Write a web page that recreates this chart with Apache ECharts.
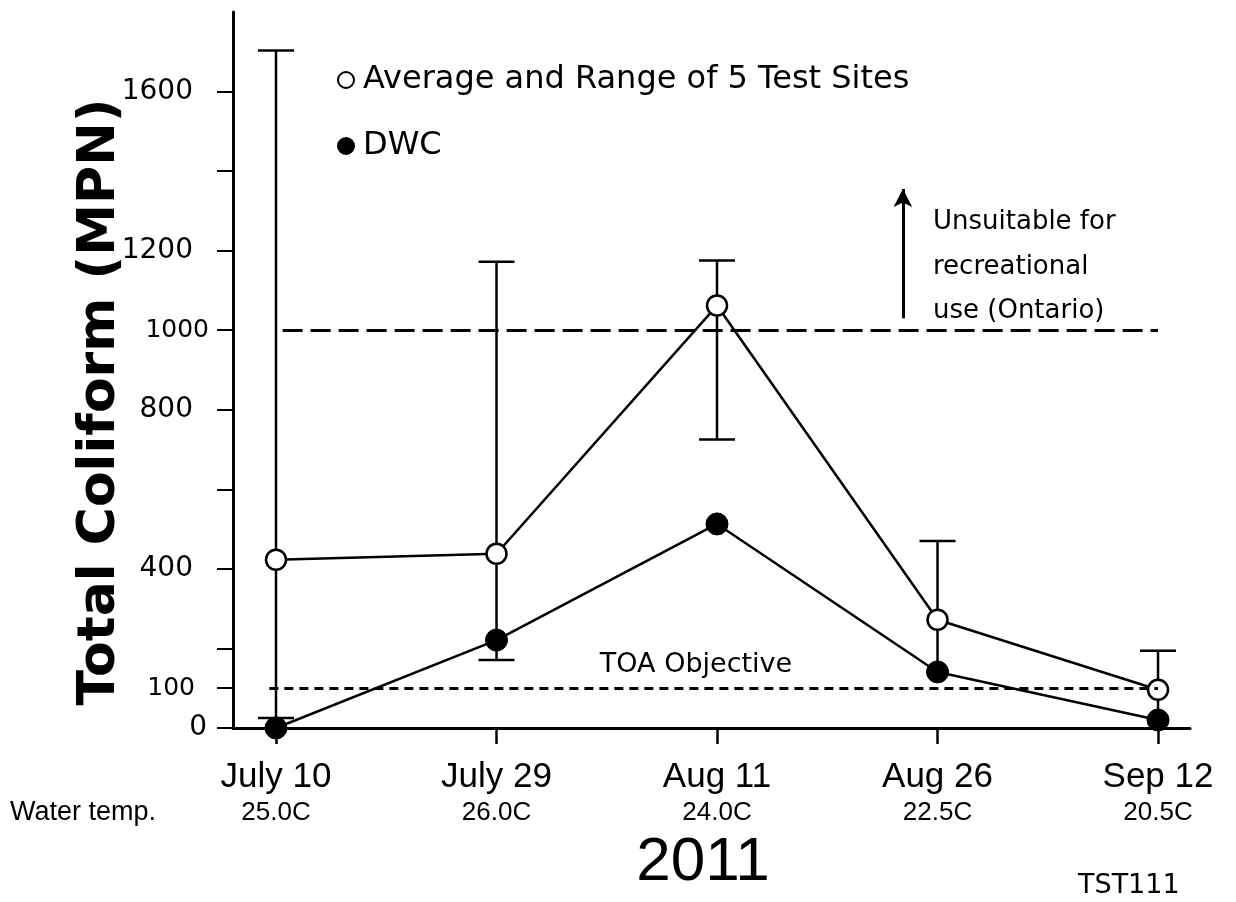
<!DOCTYPE html>
<html>
<head>
<meta charset="utf-8">
<title>Total Coliform 2011</title>
<script src="https://cdn.jsdelivr.net/npm/echarts@6/dist/echarts.min.js"></script>
<style>
    html, body { margin: 0; padding: 0; background: #fff; }
    #chart { width: 1236px; height: 902px; }
</style>
</head>
<body>
<div id="chart"></div>
<script>
// sampling dates and water temperature
let dates = ['July 10', 'July 29', 'Aug 11', 'Aug 26', 'Sep 12'];
let temps = ['25.0C', '26.0C', '24.0C', '22.5C', '20.5C'];

// average of 5 test sites, with range (low / high)
let avgValues = [423, 438, 1062, 272, 96];
let rangeLow  = [25, 171, 725, 141, 20];
let rangeHigh = [1703, 1172, 1175, 470, 194];

// DWC site
let dwcValues = [0, 221, 513, 141, 20];

// y axis
let yTicks  = [0, 100, 200, 400, 600, 800, 1000, 1200, 1400, 1600];
let yLabels = [0, 100, 400, 800, 1000, 1200, 1600];

// guideline levels
let ontarioLimit = 1000;
let toaObjective = 100;

let chart = echarts.init(document.getElementById('chart'), null, {renderer: 'canvas'});

let sansFont = 'DejaVu Sans';
let narrowFont = 'Liberation Sans';

let avgData = avgValues.map((v, i) => [i, v]);
let dwcData = dwcValues.map((v, i) => [i, v]);
let barData = rangeLow.map((v, i) => [i, v, rangeHigh[i], dwcValues[i]]);

// error bars (vertical line + caps)
let renderRange = (params, api) => {
    let x = api.value(0);
    let lo = api.coord([x, api.value(1)]);
    let hi = api.coord([x, api.value(2)]);
    let half = 18;
    let style = {stroke: '#000', lineWidth: 2.5};
    let children = [
        {type: 'line', shape: {x1: lo[0], y1: lo[1], x2: hi[0], y2: hi[1]}, style: style},
        {type: 'line', shape: {x1: hi[0] - half, y1: hi[1], x2: hi[0] + half, y2: hi[1]}, style: style}
    ];
    // the low end hidden under the DWC point has no cap
    if (api.value(1) !== api.value(3)) {
        children.push({type: 'line', shape: {x1: lo[0] - half, y1: lo[1], x2: lo[0] + half, y2: lo[1]}, style: style});
    }
    return {type: 'group', children: children};
};

let option = {
    backgroundColor: '#fff',
    animation: false,
    grid: {left: 233, right: 46, top: 12, bottom: 174, containLabel: false},
    legend: {
        orient: 'vertical',
        left: 332,
        top: 59,
        itemGap: 34,
        itemWidth: 16,
        itemHeight: 16,
        icon: 'circle',
        textStyle: {fontFamily: sansFont, fontSize: 32, color: '#000', padding: [0, 0, 0, 4]},
        data: ['Average and Range of 5 Test Sites', 'DWC']
    },
    xAxis: {
        type: 'value',
        min: -0.195,
        max: 4.145,
        splitLine: {show: false},
        axisLine: {show: true, onZero: false, lineStyle: {color: '#000', width: 3}},
        axisTick: {show: true, customValues: [0, 1, 2, 3, 4], length: 16, lineStyle: {color: '#000', width: 2.5}},
        axisLabel: {
            customValues: [0, 1, 2, 3, 4],
            margin: 30,
            color: '#000',
            formatter: v => '{d|' + dates[Math.round(v)] + '}\n{t|' + temps[Math.round(v)] + '}',
            rich: {
                d: {fontFamily: narrowFont, fontSize: 35, lineHeight: 38, color: '#000', align: 'center'},
                t: {fontFamily: narrowFont, fontSize: 26, lineHeight: 34, color: '#000', align: 'center'}
            }
        }
    },
    yAxis: {
        type: 'value',
        min: 0,
        max: 1800,
        splitLine: {show: false},
        axisLine: {show: true, onZero: false, lineStyle: {color: '#000', width: 3}},
        axisTick: {show: true, customValues: yTicks, length: 16, lineStyle: {color: '#000', width: 2}},
        axisLabel: {
            customValues: yLabels,
            margin: 24,
            color: '#000',
            formatter: v => {
                if (v === 1000) return '{s|1000}';
                if (v === 100) return '{s2|100}';
                if (v === 0) return '{z|0}';
                return '{n|' + v + '}';
            },
            rich: {
                n: {fontFamily: sansFont, fontSize: 28, color: '#000', padding: [0, 16, 0, 0]},
                s: {fontFamily: sansFont, fontSize: 25, color: '#000'},
                s2: {fontFamily: sansFont, fontSize: 25, color: '#000', padding: [0, 14, 0, 0]},
                z: {fontFamily: sansFont, fontSize: 28, color: '#000', padding: [0, 2, 0, 0]}
            }
        }
    },
    series: [
        {
            name: 'range',
            type: 'custom',
            renderItem: renderRange,
            data: barData,
            z: 1,
            silent: true
        },
        {
            name: 'DWC',
            type: 'line',
            data: dwcData,
            symbol: 'circle',
            symbolSize: 22,
            lineStyle: {color: '#000', width: 2.5},
            itemStyle: {color: '#000', borderColor: '#000', borderWidth: 1},
            z: 3,
            markLine: {
                silent: true,
                symbol: ['none', 'none'],
                label: {show: false},
                lineStyle: {color: '#000', width: 3, type: [9, 6]},
                data: [[{coord: [-0.03, toaObjective]}, {coord: [4, toaObjective]}]]
            }
        },
        {
            name: 'Average and Range of 5 Test Sites',
            type: 'line',
            data: avgData,
            symbol: 'circle',
            symbolSize: 20,
            lineStyle: {color: '#000', width: 2.5},
            itemStyle: {color: '#fff', borderColor: '#000', borderWidth: 2.5},
            z: 4,
            markLine: {
                silent: true,
                label: {show: false},
                data: [
                    [
                        {coord: [0.03, ontarioLimit], symbol: 'none', lineStyle: {color: '#000', width: 3, type: [20, 8]}},
                        {coord: [4, ontarioLimit], symbol: 'none'}
                    ],
                    [
                        {coord: [2.843, 1030], symbol: 'none', lineStyle: {color: '#000', width: 3, type: 'solid'}},
                        {coord: [2.843, 1355], symbol: 'arrow', symbolSize: [14, 18]}
                    ]
                ]
            }
        }
    ],
    graphic: [
        {
            type: 'text', x: 100, y: 402, rotation: Math.PI / 2,
            style: {text: 'Total Coliform (MPN)', fontFamily: sansFont, fontWeight: 'bold', fontSize: 52,
                fill: '#000', align: 'center', verticalAlign: 'middle'}
        },
        {
            type: 'text', left: 933, top: 200,
            style: {text: 'Unsuitable for\nrecreational\nuse (Ontario)', fontFamily: sansFont, fontSize: 26,
                lineHeight: 44.5, fill: '#000'}
        },
        {
            type: 'text', x: 696, y: 665,
            style: {text: 'TOA Objective', fontFamily: sansFont, fontSize: 27, fill: '#000',
                align: 'center', verticalAlign: 'middle'}
        },
        {
            type: 'text', x: 10, y: 813,
            style: {text: 'Water temp.', fontFamily: narrowFont, fontSize: 27, fill: '#000', verticalAlign: 'middle'}
        },
        {
            type: 'text', x: 703, y: 863,
            style: {text: '2011', fontFamily: narrowFont, fontSize: 62, fill: '#000', align: 'center', verticalAlign: 'middle'}
        },
        {
            type: 'text', x: 1078, y: 886,
            style: {text: 'TST111', fontFamily: sansFont, fontSize: 27, fill: '#000', verticalAlign: 'middle'}
        }
    ]
};

chart.setOption(option);
</script>
</body>
</html>
